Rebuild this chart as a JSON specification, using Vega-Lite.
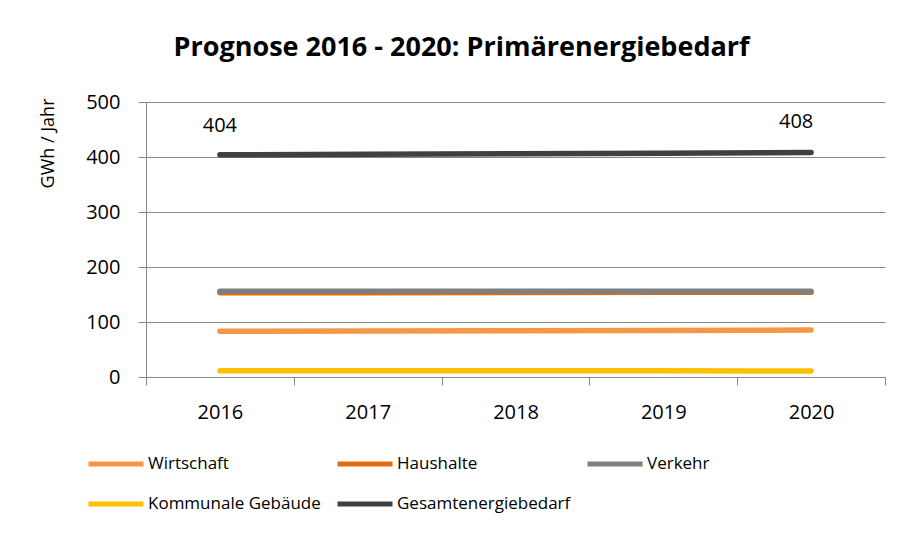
{
  "$schema": "https://vega.github.io/schema/vega-lite/v6.json",
  "width": 739,
  "height": 275,
  "autosize": {"type": "none"},
  "padding": {"left": 146, "top": 102, "right": 22, "bottom": 157},
  "background": "white",
  "title": {
    "text": "Prognose 2016 - 2020: Primärenergiebedarf",
    "anchor": "middle",
    "frame": "group",
    "dx": -54,
    "offset": 9,
    "baseline": "alphabetic",
    "font": "Open Sans",
    "fontSize": 27,
    "fontWeight": "bold",
    "color": "black"
  },
  "data": {
    "values": [
      {"year": "2016", "series": "Kommunale Gebäude", "value": 11.5},
      {"year": "2017", "series": "Kommunale Gebäude", "value": 11.5},
      {"year": "2018", "series": "Kommunale Gebäude", "value": 11.5},
      {"year": "2019", "series": "Kommunale Gebäude", "value": 11.2},
      {"year": "2020", "series": "Kommunale Gebäude", "value": 11},
      {"year": "2016", "series": "Wirtschaft", "value": 83},
      {"year": "2017", "series": "Wirtschaft", "value": 83.5},
      {"year": "2018", "series": "Wirtschaft", "value": 84},
      {"year": "2019", "series": "Wirtschaft", "value": 84.5},
      {"year": "2020", "series": "Wirtschaft", "value": 85.5},
      {"year": "2016", "series": "Haushalte", "value": 153},
      {"year": "2017", "series": "Haushalte", "value": 153},
      {"year": "2018", "series": "Haushalte", "value": 153.5},
      {"year": "2019", "series": "Haushalte", "value": 154},
      {"year": "2020", "series": "Haushalte", "value": 154},
      {"year": "2016", "series": "Verkehr", "value": 156},
      {"year": "2017", "series": "Verkehr", "value": 156},
      {"year": "2018", "series": "Verkehr", "value": 156},
      {"year": "2019", "series": "Verkehr", "value": 156},
      {"year": "2020", "series": "Verkehr", "value": 156},
      {"year": "2016", "series": "Gesamtenergiebedarf", "value": 404},
      {"year": "2017", "series": "Gesamtenergiebedarf", "value": 405},
      {"year": "2018", "series": "Gesamtenergiebedarf", "value": 406},
      {"year": "2019", "series": "Gesamtenergiebedarf", "value": 407},
      {"year": "2020", "series": "Gesamtenergiebedarf", "value": 408}
    ]
  },
  "encoding": {
    "x": {
      "field": "year",
      "type": "ordinal",
      "bandPosition": 0.5,
      "scale": {"type": "band", "paddingInner": 0, "paddingOuter": 0},
      "axis": {
        "title": null,
        "labelAngle": 0,
        "tickBand": "extent",
        "tickSize": 8,
        "labelPadding": 17,
        "labelFont": "Open Sans",
        "labelFontSize": 20,
        "labelColor": "black",
        "domainColor": "#878787",
        "tickColor": "#878787",
        "grid": false
      }
    },
    "y": {
      "field": "value",
      "type": "quantitative",
      "scale": {"domain": [0, 500], "nice": false},
      "axis": {
        "title": "GWh / Jahr",
        "titleAnchor": "end",
        "titleFont": "Open Sans",
        "titleFontSize": 18,
        "titleFontWeight": "normal",
        "titleColor": "black",
        "titlePadding": 28,
        "titleY": -4,
        "values": [0, 100, 200, 300, 400, 500],
        "tickSize": 8,
        "labelPadding": 18,
        "labelFont": "Open Sans",
        "labelFontSize": 20,
        "labelColor": "black",
        "domainColor": "#878787",
        "tickColor": "#878787",
        "gridColor": "#878787",
        "grid": true
      }
    }
  },
  "layer": [
    {
      "mark": {"type": "line", "strokeWidth": 5.5, "strokeCap": "round", "strokeJoin": "round"},
      "encoding": {
        "color": {
          "field": "series",
          "type": "nominal",
          "scale": {
            "domain": ["Wirtschaft", "Haushalte", "Verkehr", "Kommunale Gebäude", "Gesamtenergiebedarf"],
            "range": ["#F79646", "#E46C0A", "#7F7F7F", "#FFC000", "#404040"]
          },
          "legend": {
            "title": null,
            "orient": "none",
            "legendX": -60,
            "legendY": 332,
            "direction": "horizontal",
            "columns": 3,
            "columnPadding": 6,
            "rowPadding": -13,
            "symbolType": "stroke",
            "symbolSize": 3025,
            "symbolStrokeWidth": 5,
            "labelOffset": 2,
            "labelFont": "Open Sans",
            "labelFontSize": 17,
            "labelColor": "black",
            "labelLimit": 400
          }
        }
      }
    },
    {
      "transform": [{"filter": "datum.series === 'Gesamtenergiebedarf' && datum.year === '2016'"}],
      "mark": {"type": "text", "dy": -29, "font": "Open Sans", "fontSize": 20, "color": "black"},
      "encoding": {"text": {"field": "value", "type": "quantitative"}}
    },
    {
      "transform": [{"filter": "datum.series === 'Gesamtenergiebedarf' && datum.year === '2020'"}],
      "mark": {"type": "text", "dy": -31, "dx": -15, "font": "Open Sans", "fontSize": 20, "color": "black"},
      "encoding": {"text": {"field": "value", "type": "quantitative"}}
    }
  ],
  "config": {"view": {"stroke": null}}
}
